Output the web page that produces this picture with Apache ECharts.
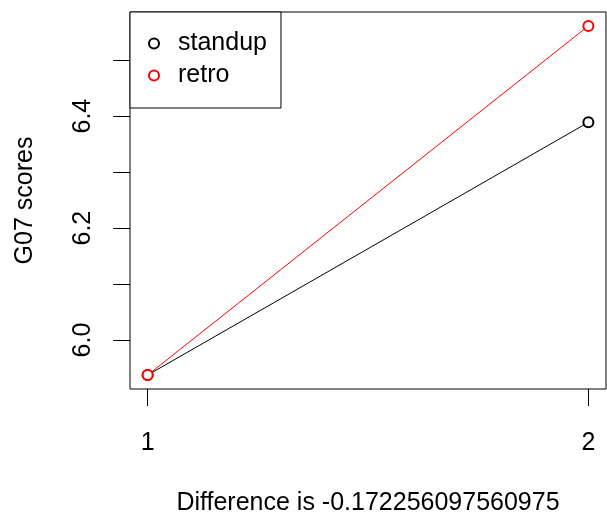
<!DOCTYPE html>
<html>
<head>
<meta charset="utf-8">
<script src="https://cdn.jsdelivr.net/npm/echarts@6/dist/echarts.min.js"></script>
<style>
  html, body { margin: 0; padding: 0; background: #fff; }
  #main { width: 607px; height: 521px; }
</style>
</head>
<body>
<div id="main"></div>
<script>
// data
const xValues = [1, 2]
const standup = [5.9375, 6.3889]
const retro = [5.9375, 6.5611]
const xTicks = [1, 2]
const yTicks = [6.0, 6.1, 6.2, 6.3, 6.4, 6.5]
const yLabels = [6.0, 6.2, 6.4]
const diffText = 'Difference is -0.172256097560975'

const font = 'Liberation Sans, Arial, sans-serif'

const chart = echarts.init(document.getElementById('main'))

const option = {
  animation: false,
  grid: {
    left: 130, right: 1, top: 12, bottom: 132,
    show: true, borderColor: '#000', borderWidth: 1,
    outerBoundsMode: 'none'
  },
  legend: {
    orient: 'vertical',
    left: 130, top: 12,
    padding: [19, 14, 20, 18],
    itemGap: 7,
    itemWidth: 10, itemHeight: 10,
    icon: 'emptyCircle',
    borderColor: '#000', borderWidth: 1,
    backgroundColor: '#fff',
    textStyle: { fontFamily: font, fontSize: 25, color: '#000', lineHeight: 25, padding: [0, 0, 0, 14] },
    data: ['standup', 'retro']
  },
  xAxis: {
    type: 'value',
    min: 0.96, max: 2.04,
    name: diffText,
    nameLocation: 'middle',
    nameGap: 102,
    nameTextStyle: { fontFamily: font, fontSize: 25, color: '#000' },
    splitLine: { show: false },
    axisLine: { show: false },
    axisTick: { show: true, inside: false, length: 17, customValues: xTicks, lineStyle: { color: '#000' } },
    axisLabel: { customValues: xTicks, margin: 42, fontFamily: font, fontSize: 25, color: '#000' }
  },
  yAxis: {
    type: 'value',
    min: 5.9126, max: 6.586,
    name: 'G07 scores',
    nameLocation: 'middle',
    nameGap: 92,
    nameTextStyle: { fontFamily: font, fontSize: 25, color: '#000' },
    splitLine: { show: false },
    axisLine: { show: false },
    axisTick: { show: true, inside: false, length: 17, customValues: yTicks, lineStyle: { color: '#000' } },
    axisLabel: {
      customValues: yLabels, rotate: 90, margin: 34,
      fontFamily: font, fontSize: 25, color: '#000',
      formatter: v => v.toFixed(1)
    }
  },
  series: [
    {
      name: 'standup', type: 'line',
      data: xValues.map((x, i) => [x, standup[i]]),
      symbol: 'emptyCircle', symbolSize: 10,
      lineStyle: { color: '#000', width: 1 },
      itemStyle: { color: '#000', borderWidth: 1.2 }
    },
    {
      name: 'retro', type: 'line',
      data: xValues.map((x, i) => [x, retro[i]]),
      symbol: 'emptyCircle', symbolSize: 10,
      lineStyle: { color: '#ff0000', width: 1 },
      itemStyle: { color: '#ff0000', borderWidth: 1.2 }
    }
  ]
}

chart.setOption(option)
</script>
</body>
</html>
